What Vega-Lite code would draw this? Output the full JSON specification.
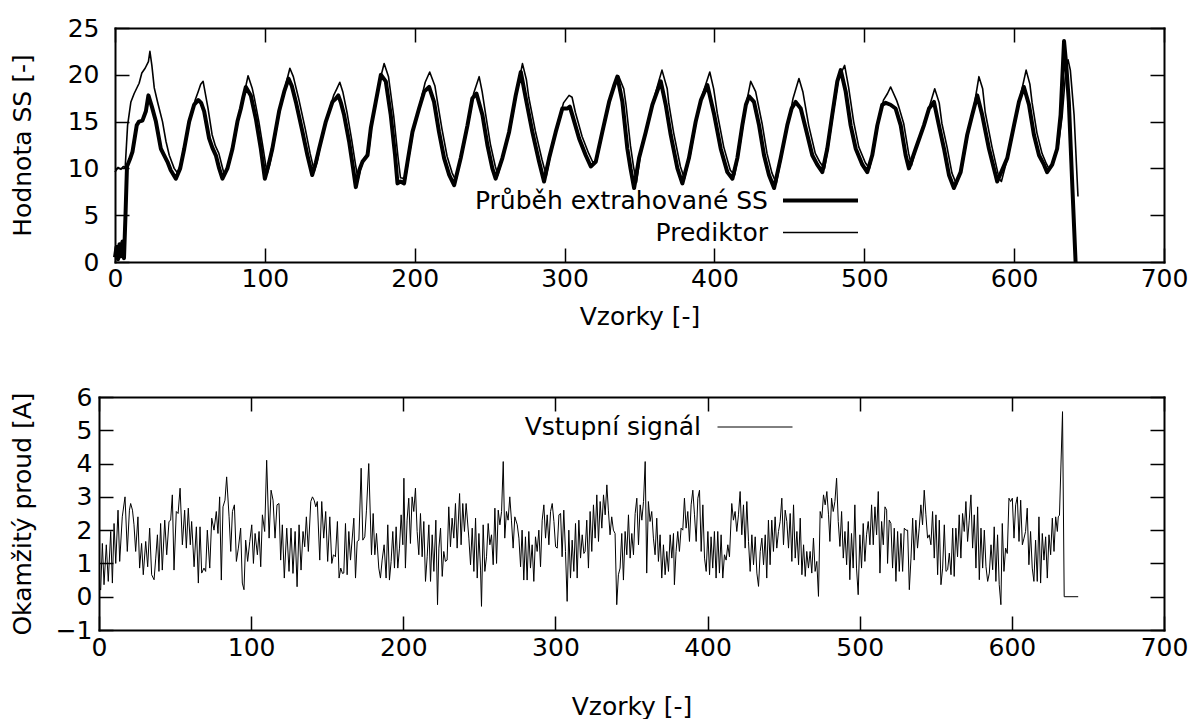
{
"$schema": "https://vega.github.io/schema/vega-lite/v6.json",
"padding": {"left": 10, "top": 16, "right": 5, "bottom": 0},
"background": "white",
"config": {
  "font": "DejaVu Sans",
  "view": {"stroke": null},
  "axis": {"domain": true, "domainColor": "black", "domainWidth": 2, "domainCap": "square", "grid": false, "tickSize": -14, "tickColor": "black", "tickWidth": 1.5, "labelColor": "black", "titleColor": "black", "labelFontSize": 25, "titleFontSize": 25, "titleFontWeight": "normal", "labelFont": "DejaVu Sans", "titleFont": "DejaVu Sans", "labelFlush": false, "labelOverlap": false},
  "legend": {"labelFont": "DejaVu Sans", "labelFontSize": 25, "labelColor": "black", "padding": 0, "offset": 0}
},
"datasets": {
"ss": [{"x":0,"v":0.5},{"x":1,"v":1.6},{"x":2,"v":0.3},{"x":3,"v":1.9},{"x":4,"v":0.6},{"x":5,"v":2.2},{"x":6,"v":0.4},{"x":7,"v":5.0},{"x":8,"v":10.2},{"x":10,"v":11.0},{"x":11.7,"v":11.8},{"x":14.5,"v":14.6},{"x":16,"v":15.0},{"x":18.3,"v":15.1},{"x":20.6,"v":16.1},{"x":22.3,"v":17.8},{"x":24.6,"v":16.6},{"x":27.3,"v":15.0},{"x":30.6,"v":12.1},{"x":32.8,"v":11.4},{"x":35,"v":10.7},{"x":37.2,"v":9.8},{"x":40.6,"v":8.9},
{"x":43.5,"v":10.0},{"x":46.2,"v":12.1},{"x":49.5,"v":15.0},{"x":52.8,"v":16.8},{"x":55.5,"v":17.3},{"x":57.5,"v":17.0},{"x":59.5,"v":16.1},{"x":62.8,"v":13.2},{"x":65,"v":12.2},{"x":67.3,"v":11.4},{"x":69.5,"v":10.0},{"x":71.7,"v":8.9},
{"x":75,"v":10.0},{"x":78.4,"v":12.1},{"x":81.7,"v":15.0},{"x":84,"v":16.4},{"x":85.6,"v":17.6},{"x":87.3,"v":18.7},{"x":90.6,"v":17.8},{"x":94,"v":15.3},{"x":97.3,"v":12.1},{"x":100,"v":8.9},
{"x":102.5,"v":10.4},{"x":105,"v":12.1},{"x":109.5,"v":16.1},{"x":112.9,"v":18.2},{"x":115.8,"v":19.6},{"x":118,"v":18.8},{"x":120.7,"v":17.1},{"x":125.1,"v":13.9},{"x":128.4,"v":11.4},{"x":131.6,"v":9.3},
{"x":134,"v":10.6},{"x":136.2,"v":12.1},{"x":140.7,"v":15.0},{"x":145.1,"v":17.1},{"x":147,"v":17.4},{"x":149,"v":17.8},{"x":150.8,"v":17.0},{"x":152.9,"v":15.7},{"x":156.2,"v":12.9},{"x":158.9,"v":10.0},{"x":160.7,"v":8.0},
{"x":163,"v":9.8},{"x":165.1,"v":10.7},{"x":168.5,"v":11.4},{"x":170.7,"v":14.3},{"x":174,"v":17.1},{"x":177.4,"v":20.0},{"x":180.7,"v":19.3},{"x":184,"v":15.7},{"x":186.9,"v":11.4},{"x":188.5,"v":8.4},
{"x":190.5,"v":8.6},{"x":192.9,"v":8.4},{"x":195.5,"v":11.0},{"x":198.5,"v":13.9},{"x":202.9,"v":16.4},{"x":206.3,"v":18.2},{"x":209.6,"v":18.7},{"x":212.9,"v":17.1},{"x":216.2,"v":13.9},{"x":219.6,"v":11.1},{"x":223,"v":9.3},{"x":226.3,"v":8.2},
{"x":230.7,"v":11.1},{"x":235.2,"v":14.6},{"x":238.5,"v":17.5},{"x":241.2,"v":18.0},{"x":245.2,"v":15.7},{"x":248.5,"v":12.5},{"x":251.8,"v":10.0},{"x":254,"v":8.9},
{"x":258.5,"v":11.1},{"x":263,"v":13.9},{"x":267.4,"v":17.8},{"x":270.8,"v":20.3},{"x":274.1,"v":17.5},{"x":278.5,"v":13.9},{"x":283,"v":10.7},{"x":286.3,"v":8.6},
{"x":289.7,"v":11.1},{"x":294.1,"v":13.9},{"x":298.5,"v":16.4},{"x":301.9,"v":16.4},{"x":303.5,"v":16.6},{"x":305.2,"v":15.7},{"x":309.7,"v":13.2},{"x":314.1,"v":11.4},{"x":317.5,"v":10.2},
{"x":320.8,"v":10.7},{"x":325.2,"v":13.9},{"x":329.7,"v":17.1},{"x":333,"v":18.8},{"x":335.2,"v":19.8},{"x":338.6,"v":17.1},{"x":341.9,"v":12.1},{"x":344,"v":10.0},{"x":346.4,"v":7.9},
{"x":349.7,"v":11.1},{"x":354.2,"v":13.9},{"x":358.6,"v":16.8},{"x":364.2,"v":19.3},{"x":367.5,"v":16.8},{"x":370.8,"v":13.6},{"x":375.3,"v":10.0},{"x":378.6,"v":8.4},
{"x":383,"v":11.1},{"x":387.5,"v":15.0},{"x":391,"v":17.3},{"x":395.3,"v":18.9},{"x":399.9,"v":15.7},{"x":404.2,"v":12.1},{"x":408.6,"v":9.6},{"x":412,"v":8.9},
{"x":415.3,"v":11.1},{"x":418.6,"v":14.6},{"x":421,"v":16.8},{"x":423.1,"v":17.7},{"x":426.4,"v":17.1},{"x":429.8,"v":14.6},{"x":433.1,"v":11.4},{"x":436.4,"v":9.3},{"x":439.8,"v":7.9},
{"x":444.2,"v":11.1},{"x":448.6,"v":14.6},{"x":451.5,"v":16.4},{"x":454.2,"v":17.1},{"x":457.6,"v":16.4},{"x":460.9,"v":14.3},{"x":465.3,"v":11.4},{"x":468.6,"v":10.4},{"x":472,"v":9.6},
{"x":475.3,"v":12.1},{"x":478.6,"v":15.7},{"x":482,"v":19.3},{"x":484.3,"v":20.5},{"x":487.6,"v":18.2},{"x":490.9,"v":14.6},{"x":494.3,"v":12.1},{"x":498.7,"v":10.4},{"x":502,"v":9.6},
{"x":505.3,"v":11.4},{"x":508.7,"v":14.6},{"x":512,"v":16.8},{"x":514.3,"v":17.0},{"x":517.5,"v":16.8},{"x":520.9,"v":16.4},{"x":524.3,"v":14.6},{"x":527.6,"v":11.4},{"x":529.8,"v":10.0},
{"x":534.3,"v":12.1},{"x":539.8,"v":14.6},{"x":543.2,"v":16.4},{"x":546.5,"v":17.1},{"x":549.8,"v":14.6},{"x":553.2,"v":12.1},{"x":556.5,"v":9.3},{"x":559.8,"v":7.9},
{"x":564.3,"v":9.6},{"x":568.7,"v":13.6},{"x":572,"v":15.7},{"x":575.4,"v":17.8},{"x":578.7,"v":15.7},{"x":583.2,"v":12.1},{"x":588.7,"v":8.6},
{"x":595.4,"v":11.1},{"x":599.9,"v":14.6},{"x":603.2,"v":17.1},{"x":606.5,"v":18.7},{"x":609.9,"v":16.8},{"x":613.2,"v":13.6},{"x":616.6,"v":11.4},{"x":619.9,"v":10.4},{"x":622,"v":9.6},
{"x":625.4,"v":10.4},{"x":628.7,"v":12.1},{"x":631,"v":15.7},{"x":633.3,"v":23.6},{"x":634.8,"v":21.0},{"x":636.5,"v":17.1},{"x":638.7,"v":8.6},{"x":641,"v":0}],
"pred": [{"x":0,"v":9.6},{"x":2,"v":10.1},{"x":4,"v":9.9},{"x":5.5,"v":10.2},{"x":6.8,"v":10.1},{"x":8.4,"v":14.6},{"x":10.6,"v":17.1},{"x":12.8,"v":18.0},{"x":16.1,"v":19.1},{"x":17.9,"v":20.2},{"x":20.1,"v":20.7},{"x":22.3,"v":21.4},{"x":23.3,"v":22.5},{"x":24.6,"v":21.0},{"x":26.2,"v":18.6},{"x":28.4,"v":17.1},{"x":31.7,"v":15.0},{"x":34,"v":12.9},{"x":36.2,"v":11.4},{"x":39.5,"v":10.0},{"x":41.7,"v":9.5},
{"x":44.5,"v":10.8},{"x":47,"v":12.6},{"x":50.3,"v":15.4},{"x":53.5,"v":17.3},{"x":55.5,"v":18.2},{"x":57.2,"v":19.0},{"x":58.8,"v":19.3},{"x":60.5,"v":17.8},{"x":62,"v":16.5},{"x":64.8,"v":13.6},{"x":67,"v":12.4},{"x":69.3,"v":11.6},{"x":71.5,"v":10.2},{"x":73,"v":9.3},
{"x":76,"v":10.6},{"x":79.2,"v":12.5},{"x":82.5,"v":15.4},{"x":84.8,"v":16.9},{"x":86.5,"v":18.2},{"x":88.8,"v":19.9},{"x":91.5,"v":18.6},{"x":93,"v":17.5},{"x":96,"v":15.0},{"x":99,"v":12.0},{"x":101.5,"v":9.4},
{"x":103.5,"v":10.6},{"x":105.8,"v":12.5},{"x":110.3,"v":16.5},{"x":113.7,"v":18.8},{"x":116.7,"v":20.7},{"x":119,"v":19.8},{"x":122.5,"v":17.5},{"x":127,"v":14.2},{"x":130.2,"v":11.6},{"x":133,"v":9.7},
{"x":135,"v":10.8},{"x":137,"v":12.4},{"x":141.5,"v":15.5},{"x":145.9,"v":17.8},{"x":148,"v":18.5},{"x":150,"v":19.2},{"x":152,"v":18.2},{"x":154.8,"v":16.0},{"x":158,"v":13.0},{"x":160.5,"v":10.4},{"x":162.2,"v":8.8},
{"x":164,"v":10.0},{"x":166,"v":11.0},{"x":169.3,"v":11.8},{"x":171.5,"v":14.8},{"x":174.8,"v":17.8},{"x":178,"v":20.2},{"x":179.6,"v":21.2},{"x":182.5,"v":19.8},{"x":186,"v":15.6},{"x":188.8,"v":11.3},{"x":190.5,"v":9.0},
{"x":193.8,"v":8.9},{"x":196.3,"v":11.4},{"x":199.3,"v":14.3},{"x":203.7,"v":17.0},{"x":207,"v":19.2},{"x":210,"v":20.3},{"x":213.5,"v":18.8},{"x":215,"v":17.3},{"x":218.2,"v":14.2},{"x":221.6,"v":11.3},{"x":225,"v":9.5},{"x":227.5,"v":8.7},
{"x":231.5,"v":11.5},{"x":236,"v":15.0},{"x":239.3,"v":18.0},{"x":243,"v":19.8},{"x":245,"v":18.2},{"x":247.2,"v":15.9},{"x":250.5,"v":12.6},{"x":253.8,"v":10.2},{"x":255.5,"v":9.3},
{"x":259.3,"v":11.5},{"x":263.8,"v":14.3},{"x":268.2,"v":18.2},{"x":271.9,"v":21.2},{"x":274.5,"v":19.5},{"x":276.1,"v":17.6},{"x":280.5,"v":14.0},{"x":285,"v":10.9},{"x":287.8,"v":9.2},
{"x":290.5,"v":11.4},{"x":294.9,"v":14.4},{"x":299.3,"v":17.0},{"x":303,"v":17.8},{"x":305,"v":17.6},{"x":307.2,"v":16.0},{"x":311.7,"v":13.4},{"x":316.1,"v":11.6},{"x":319,"v":10.6},
{"x":321.6,"v":11.0},{"x":326,"v":14.3},{"x":330.5,"v":17.6},{"x":333.8,"v":19.2},{"x":336,"v":19.9},{"x":339.5,"v":18.5},{"x":341,"v":16.8},{"x":344,"v":12.4},{"x":346,"v":10.2},{"x":348,"v":8.5},
{"x":350.5,"v":11.4},{"x":355,"v":14.3},{"x":359.4,"v":17.3},{"x":363,"v":19.4},{"x":365,"v":20.5},{"x":368.5,"v":18.5},{"x":369.5,"v":17.0},{"x":372.8,"v":13.8},{"x":377.3,"v":10.2},{"x":380,"v":8.9},
{"x":383.8,"v":11.4},{"x":388.3,"v":15.4},{"x":391.8,"v":17.8},{"x":396.9,"v":20.3},{"x":399.5,"v":18.5},{"x":401.9,"v":15.9},{"x":406.2,"v":12.3},{"x":410.6,"v":9.8},{"x":413.5,"v":9.3},
{"x":416.1,"v":11.5},{"x":419.4,"v":15.0},{"x":422,"v":17.5},{"x":424.2,"v":19.3},{"x":427.5,"v":18.2},{"x":431.8,"v":14.8},{"x":435.1,"v":11.6},{"x":438.4,"v":9.5},{"x":441.3,"v":8.4},
{"x":445,"v":11.5},{"x":449.4,"v":15.0},{"x":452.5,"v":17.5},{"x":456.4,"v":19.6},{"x":459,"v":18.2},{"x":462.9,"v":14.6},{"x":467.3,"v":11.6},{"x":470.6,"v":10.6},{"x":473.5,"v":10.0},
{"x":476.1,"v":12.5},{"x":479.4,"v":16.1},{"x":482.8,"v":19.6},{"x":486.9,"v":21.0},{"x":489.6,"v":18.6},{"x":492.9,"v":15.0},{"x":496.3,"v":12.3},{"x":500.7,"v":10.6},{"x":503.5,"v":10.0},
{"x":506.1,"v":11.8},{"x":509.5,"v":15.0},{"x":512.8,"v":17.3},{"x":515.5,"v":18.0},{"x":517.6,"v":18.7},{"x":521.5,"v":17.3},{"x":523,"v":16.6},{"x":526.3,"v":14.8},{"x":529.6,"v":11.6},{"x":531.5,"v":10.3},
{"x":535.1,"v":12.5},{"x":540.6,"v":15.0},{"x":544,"v":16.9},{"x":547,"v":18.5},{"x":550,"v":17.0},{"x":551.8,"v":14.8},{"x":555.2,"v":12.3},{"x":558.5,"v":9.5},{"x":561.5,"v":8.3},
{"x":565.1,"v":10.0},{"x":569.5,"v":14.0},{"x":572.8,"v":16.2},{"x":576.5,"v":19.8},{"x":579,"v":18.5},{"x":580.7,"v":16.0},{"x":585.2,"v":12.3},{"x":590,"v":8.9},{"x":591.5,"v":8.6},
{"x":596.2,"v":11.5},{"x":600.7,"v":15.0},{"x":604,"v":17.6},{"x":608,"v":20.5},{"x":610.5,"v":19.0},{"x":612,"v":17.0},{"x":615.2,"v":13.8},{"x":618.6,"v":11.6},{"x":621.5,"v":10.5},{"x":623.5,"v":9.9},
{"x":626.2,"v":10.7},{"x":629.5,"v":12.5},{"x":632,"v":15.5},{"x":634,"v":19.5},{"x":635,"v":21.0},{"x":636,"v":21.6},{"x":637.5,"v":20.5},{"x":640,"v":15.7},{"x":642.6,"v":7.0}],
"sig": [{"x":0,"v":0.3},{"x":1.1,"v":0.2},{"x":2.2,"v":1.6},{"x":3.3,"v":0.36},{"x":4.8,"v":1.56},{"x":6.1,"v":0.46},{"x":7.7,"v":1.96},{"x":8.8,"v":0.41},{"x":9.9,"v":2.2},{"x":11,"v":1.0},{"x":12.5,"v":2.6},{"x":13.6,"v":1.06},{"x":15.3,"v":2.4},{"x":17.1,"v":3.0},{"x":18.6,"v":1.36},{"x":20,"v":2.6},{"x":20.8,"v":2.8},{"x":22,"v":2.6},{"x":23,"v":2.16},{"x":24.1,"v":1.36},{"x":25.6,"v":2.4},{"x":26.7,"v":0.86},{"x":28,"v":1.6},{"x":29.1,"v":0.66},{"x":30.7,"v":1.66},{"x":32,"v":0.9},{"x":33.3,"v":2.06},{"x":34.6,"v":0.66},{"x":36.2,"v":0.51},{"x":37.3,"v":1.16},{"x":38.4,"v":1.86},{"x":39.4,"v":0.76},{"x":40.5,"v":2.2},{"x":41.6,"v":0.8},{"x":43.2,"v":2.3},{"x":44.5,"v":1.26},{"x":46,"v":2.26},{"x":47.1,"v":2.3},{"x":48.2,"v":3.06},{"x":49.3,"v":0.8},{"x":50.8,"v":2.56},{"x":52,"v":2.5},{"x":53.3,"v":3.26},{"x":54.8,"v":1.56},{"x":56.3,"v":2.6},{"x":57.4,"v":1.46},{"x":58.7,"v":2.66},{"x":60,"v":1.56},{"x":60.9,"v":2.26},{"x":62.5,"v":0.9},{"x":64,"v":2.1},{"x":65.3,"v":0.41},{"x":66.4,"v":2.1},{"x":67.5,"v":0.71},{"x":69,"v":0.86},{"x":70.1,"v":0.76},{"x":71.2,"v":2.0},{"x":72.8,"v":0.86},{"x":74.1,"v":2.36},{"x":75.6,"v":2.0},{"x":77.1,"v":2.56},{"x":78.2,"v":1.9},{"x":79.3,"v":3.0},{"x":80.4,"v":0.5},{"x":81.5,"v":2.7},{"x":82.8,"v":2.9},{"x":83.9,"v":3.6},{"x":85.5,"v":2.4},{"x":86.6,"v":1.36},{"x":87.7,"v":2.56},{"x":89,"v":2.76},{"x":90.3,"v":1.06},{"x":91.6,"v":1.46},{"x":93.1,"v":2.06},{"x":94.2,"v":0.41},{"x":95.3,"v":0.21},{"x":96.4,"v":1.7},{"x":97.7,"v":1.06},{"x":99.1,"v":1.66},{"x":100.4,"v":2.16},{"x":101.5,"v":1.0},{"x":102.6,"v":1.9},{"x":104.1,"v":1.26},{"x":105.2,"v":1.96},{"x":106.3,"v":0.9},{"x":107.4,"v":2.46},{"x":108.9,"v":1.96},{"x":110.2,"v":4.1},{"x":111.8,"v":1.76},{"x":113.1,"v":3.2},{"x":114.4,"v":2.9},{"x":115.7,"v":1.76},{"x":117,"v":2.76},{"x":118.3,"v":2.8},{"x":119.4,"v":1.1},{"x":120.5,"v":2.16},{"x":121.8,"v":0.56},{"x":123.4,"v":2.06},{"x":124.9,"v":0.76},{"x":126.2,"v":2.06},{"x":127.5,"v":0.7},{"x":128.9,"v":1.96},{"x":130.2,"v":0.3},{"x":131.5,"v":2.16},{"x":132.8,"v":0.8},{"x":134.1,"v":1.96},{"x":135.2,"v":1.5},{"x":136.3,"v":2.4},{"x":137.6,"v":1.36},{"x":139.2,"v":2.86},{"x":140.3,"v":3.0},{"x":141.4,"v":2.9},{"x":142.5,"v":2.7},{"x":143.5,"v":2.86},{"x":145.1,"v":1.1},{"x":146.4,"v":2.86},{"x":147.7,"v":1.76},{"x":149,"v":2.56},{"x":150.3,"v":1.06},{"x":151.7,"v":2.4},{"x":153,"v":1.0},{"x":154.1,"v":1.26},{"x":155.4,"v":1.2},{"x":156.7,"v":2.26},{"x":157.8,"v":0.56},{"x":158.9,"v":0.86},{"x":160,"v":0.7},
{"x":160.9,"v":0.71},{"x":162,"v":2.2},{"x":163.1,"v":0.66},{"x":164.2,"v":1.96},{"x":165.3,"v":1.1},{"x":167.5,"v":2.36},{"x":168.6,"v":0.56},{"x":169.7,"v":1.66},{"x":170.8,"v":1.7},{"x":172.3,"v":3.86},{"x":173.4,"v":1.7},{"x":174.7,"v":1.8},{"x":175.8,"v":2.6},{"x":177.3,"v":4.0},{"x":179.1,"v":1.26},{"x":180.2,"v":2.5},{"x":181.3,"v":1.26},{"x":182.4,"v":1.9},{"x":183.9,"v":0.86},{"x":185,"v":0.56},{"x":186.1,"v":1.1},{"x":187.4,"v":1.56},{"x":188.7,"v":0.56},{"x":189.8,"v":2.16},{"x":190.9,"v":0.5},{"x":192,"v":1.06},{"x":193.1,"v":1.96},{"x":194.2,"v":0.86},{"x":195.3,"v":2.1},{"x":196.4,"v":0.86},{"x":197.5,"v":1.46},{"x":198.6,"v":2.46},{"x":199.7,"v":1.56},{"x":200.4,"v":3.56},{"x":201.4,"v":0.86},{"x":202.5,"v":2.3},{"x":203.6,"v":2.96},{"x":204.7,"v":1.6},{"x":205.8,"v":3.0},{"x":206.9,"v":2.56},{"x":208,"v":3.26},{"x":209.1,"v":1.96},{"x":210.2,"v":1.26},{"x":211.3,"v":2.5},{"x":212.4,"v":1.2},{"x":213.5,"v":2.26},{"x":214.6,"v":0.46},{"x":215.7,"v":1.2},{"x":216.8,"v":2.16},{"x":217.9,"v":0.46},{"x":219,"v":1.86},{"x":220.1,"v":0.76},{"x":221.4,"v":2.3},{"x":222.5,"v":-0.24},{"x":223.4,"v":1.46},{"x":224.5,"v":2.06},{"x":225.6,"v":0.61},{"x":226.6,"v":1.36},{"x":227.7,"v":1.06},{"x":228.8,"v":1.1},{"x":229.9,"v":2.7},{"x":231,"v":1.5},{"x":232.1,"v":2.36},{"x":233.2,"v":1.76},{"x":234.3,"v":2.8},{"x":235.4,"v":1.46},{"x":237,"v":3.1},{"x":238,"v":1.56},{"x":239.1,"v":2.8},{"x":240.2,"v":1.96},{"x":241.3,"v":2.8},{"x":243.1,"v":1.76},{"x":244.2,"v":0.96},{"x":245.3,"v":2.06},{"x":246.4,"v":0.76},{"x":247.5,"v":2.36},{"x":248.6,"v":0.56},{"x":249.7,"v":1.9},{"x":250.8,"v":0.8},{"x":251.4,"v":-0.29},{"x":252.5,"v":2.16},{"x":253.6,"v":0.76},{"x":254.7,"v":1.2},{"x":255.8,"v":2.2},{"x":256.9,"v":1.56},{"x":258,"v":1.86},{"x":259.1,"v":0.96},{"x":260.2,"v":2.66},{"x":261.3,"v":1.0},{"x":262.4,"v":2.6},{"x":263.5,"v":2.16},{"x":264.6,"v":2.56},{"x":265.7,"v":4.06},{"x":266.7,"v":1.76},{"x":267.8,"v":2.56},{"x":268.9,"v":2.3},{"x":270,"v":3.0},{"x":271.1,"v":2.3},{"x":272.2,"v":1.46},{"x":273.3,"v":2.4},{"x":274.9,"v":2.16},{"x":276,"v":1.76},{"x":277.1,"v":0.9},{"x":278.1,"v":2.0},{"x":279.2,"v":0.5},{"x":280.3,"v":1.8},{"x":281.4,"v":0.5},{"x":282.5,"v":1.96},{"x":283.6,"v":0.86},{"x":284.7,"v":1.56},{"x":285.8,"v":0.46},{"x":286.9,"v":1.8},{"x":288,"v":1.36},{"x":289.1,"v":2.0},{"x":290.2,"v":0.9},{"x":291.3,"v":2.3},{"x":292.4,"v":2.76},{"x":293.5,"v":1.76},{"x":294.6,"v":2.46},{"x":295.7,"v":1.56},{"x":296.8,"v":2.56},{"x":297.9,"v":2.8},{"x":299,"v":2.26},{"x":300.1,"v":1.5},{"x":301.2,"v":1.46},{"x":302.3,"v":2.46},{"x":303.4,"v":2.5},{"x":304.4,"v":1.2},{"x":305.5,"v":2.6},{"x":306.6,"v":1.36},{"x":307.7,"v":-0.14},{"x":308.8,"v":2.0},{"x":309.9,"v":0.56},{"x":311,"v":1.7},{"x":312.1,"v":0.76},{"x":313.2,"v":2.2},{"x":314.3,"v":0.56},{"x":315.4,"v":2.3},{"x":316.5,"v":1.16},{"x":317.6,"v":1.86},{"x":318.7,"v":1.3},
{"x":319.5,"v":1.36},{"x":320.6,"v":2.3},{"x":321.7,"v":0.86},{"x":322.8,"v":2.56},{"x":323.9,"v":1.36},{"x":325,"v":2.76},{"x":326.1,"v":1.76},{"x":327.2,"v":3.06},{"x":328.3,"v":1.66},{"x":329.4,"v":2.86},{"x":330.5,"v":2.06},{"x":331.6,"v":3.06},{"x":332.7,"v":2.46},{"x":333.8,"v":3.36},{"x":334.8,"v":2.6},{"x":335.9,"v":1.86},{"x":337,"v":2.4},{"x":338.1,"v":2.0},{"x":339.2,"v":1.9},{"x":340.3,"v":-0.24},{"x":341.4,"v":0.66},{"x":342.5,"v":0.86},{"x":343.6,"v":1.9},{"x":344.7,"v":0.5},{"x":345.8,"v":1.96},{"x":346.9,"v":1.26},{"x":348,"v":2.46},{"x":349.1,"v":1.16},{"x":350.2,"v":1.9},{"x":351.3,"v":1.26},{"x":352.4,"v":2.5},{"x":353.5,"v":2.96},{"x":354.6,"v":1.56},{"x":355.7,"v":2.76},{"x":356.8,"v":2.3},{"x":357.9,"v":2.86},{"x":359,"v":4.06},{"x":360,"v":0.71},{"x":361.1,"v":2.86},{"x":362.2,"v":2.26},{"x":363.3,"v":2.56},{"x":364.4,"v":1.76},{"x":365.5,"v":1.26},{"x":366.6,"v":2.36},{"x":367.7,"v":1.06},{"x":368.8,"v":1.86},{"x":369.9,"v":0.56},{"x":371,"v":1.56},{"x":372.1,"v":0.66},{"x":373.2,"v":1.36},{"x":374.3,"v":0.76},{"x":375.4,"v":1.86},{"x":376.5,"v":1.16},{"x":377.6,"v":1.9},{"x":378.2,"v":0.36},{"x":379.3,"v":1.36},{"x":380.4,"v":1.96},{"x":381.5,"v":1.36},{"x":382.6,"v":2.06},{"x":383.7,"v":2.0},{"x":384.8,"v":2.96},{"x":385.9,"v":2.06},{"x":387,"v":2.56},{"x":388.1,"v":1.66},{"x":389.2,"v":2.76},{"x":390.3,"v":3.2},{"x":391.4,"v":2.46},{"x":392.5,"v":1.66},{"x":393.6,"v":2.96},{"x":394.7,"v":3.2},{"x":395.8,"v":1.36},{"x":396.9,"v":2.76},{"x":398,"v":1.16},{"x":399.1,"v":0.76},{"x":400.2,"v":1.96},{"x":401.3,"v":0.66},{"x":402.3,"v":1.8},{"x":403.4,"v":0.86},{"x":404.5,"v":1.96},{"x":405.6,"v":0.56},{"x":406.7,"v":1.96},{"x":407.8,"v":0.71},{"x":408.9,"v":1.86},{"x":410,"v":0.56},{"x":411.1,"v":1.26},{"x":412.2,"v":1.1},{"x":413.3,"v":1.56},{"x":414.4,"v":1.2},{"x":415.9,"v":2.8},{"x":417,"v":2.3},{"x":418.1,"v":2.56},{"x":419.2,"v":1.96},{"x":420.3,"v":2.46},{"x":421.4,"v":3.16},{"x":422.5,"v":1.86},{"x":423.6,"v":2.76},{"x":424.7,"v":1.46},{"x":425.8,"v":2.86},{"x":426.9,"v":1.66},{"x":428,"v":0.76},{"x":429.1,"v":1.86},{"x":430.2,"v":0.96},{"x":431.3,"v":1.8},{"x":432.4,"v":0.71},{"x":433.5,"v":0.31},{"x":434.6,"v":1.36},{"x":435.7,"v":1.76},{"x":436.8,"v":0.96},{"x":437.9,"v":1.86},{"x":438.9,"v":0.56},{"x":440,"v":2.3},{"x":441.1,"v":0.96},{"x":442.2,"v":2.3},{"x":443.3,"v":1.36},{"x":444.4,"v":2.4},{"x":445.5,"v":1.46},{"x":446.6,"v":1.96},{"x":447.7,"v":2.26},{"x":448.8,"v":2.96},{"x":449.9,"v":1.56},{"x":451,"v":2.6},{"x":452.1,"v":2.26},{"x":453.2,"v":1.46},{"x":454.3,"v":2.5},{"x":455.4,"v":1.06},{"x":456.5,"v":2.76},{"x":457.6,"v":1.16},{"x":458.7,"v":1.96},{"x":459.8,"v":0.96},{"x":460.9,"v":2.36},{"x":462,"v":0.66},{"x":463.1,"v":1.56},{"x":464.2,"v":0.61},{"x":465.2,"v":1.36},{"x":466.3,"v":0.86},{"x":467.4,"v":1.36},{"x":468.5,"v":0.71},{"x":469.6,"v":1.76},{"x":470.7,"v":0.76},{"x":471.8,"v":1.06},{"x":472.9,"v":0.01},{"x":474,"v":2.56},{"x":475.1,"v":2.36},{"x":476.2,"v":3.06},{"x":477.3,"v":2.76},{"x":478.4,"v":3.16},{"x":479.5,"v":2.46},
{"x":480.4,"v":1.66},{"x":481.5,"v":2.96},{"x":482.6,"v":2.56},{"x":483.7,"v":2.86},{"x":484.8,"v":3.56},{"x":485.9,"v":2.26},{"x":487,"v":1.51},{"x":488.1,"v":2.56},{"x":489.2,"v":1.16},{"x":490.3,"v":1.96},{"x":491.4,"v":0.96},{"x":492.5,"v":2.26},{"x":493.5,"v":0.51},{"x":494.6,"v":1.9},{"x":495.7,"v":0.86},{"x":496.8,"v":2.76},{"x":497.9,"v":0.86},{"x":499,"v":0.06},{"x":500.1,"v":1.86},{"x":501.2,"v":0.86},{"x":502.3,"v":2.2},{"x":503.4,"v":1.06},{"x":504.5,"v":1.86},{"x":505.6,"v":2.26},{"x":506.7,"v":1.56},{"x":507.8,"v":2.76},{"x":508.9,"v":1.56},{"x":510,"v":2.7},{"x":511.1,"v":1.86},{"x":512.2,"v":3.16},{"x":513.3,"v":0.71},{"x":514.4,"v":2.26},{"x":515.5,"v":1.56},{"x":516.6,"v":2.7},{"x":517.7,"v":2.6},{"x":518.3,"v":1.0},{"x":519.4,"v":2.3},{"x":520.5,"v":2.2},{"x":521.6,"v":0.86},{"x":522.7,"v":2.06},{"x":523.8,"v":0.46},{"x":524.9,"v":1.96},{"x":526,"v":0.76},{"x":527.1,"v":1.9},{"x":528.2,"v":0.76},{"x":529.3,"v":2.06},{"x":530.4,"v":2.0},{"x":531.5,"v":2.0},{"x":532.6,"v":0.21},{"x":533.7,"v":1.16},{"x":534.8,"v":2.36},{"x":535.8,"v":1.1},{"x":536.9,"v":2.3},{"x":538,"v":1.46},{"x":539.1,"v":2.06},{"x":540.2,"v":2.76},{"x":541.3,"v":2.16},{"x":542.4,"v":3.2},{"x":543.5,"v":2.46},{"x":544.6,"v":1.76},{"x":545.7,"v":1.86},{"x":546.8,"v":1.56},{"x":547.9,"v":2.56},{"x":549,"v":1.16},{"x":550.1,"v":2.46},{"x":551.2,"v":0.66},{"x":552.3,"v":2.3},{"x":553.4,"v":0.36},{"x":554.5,"v":0.86},{"x":555.6,"v":2.16},{"x":556.7,"v":0.76},{"x":557.8,"v":0.81},{"x":558.9,"v":1.31},{"x":560,"v":0.66},{"x":561.1,"v":2.06},{"x":562.1,"v":0.61},{"x":563.2,"v":2.06},{"x":564.3,"v":1.2},{"x":565.4,"v":2.46},{"x":566.5,"v":1.16},{"x":567.6,"v":2.5},{"x":568.7,"v":1.96},{"x":569.8,"v":2.86},{"x":570.9,"v":1.66},{"x":572,"v":2.3},{"x":573.1,"v":3.06},{"x":574.2,"v":1.46},{"x":575.3,"v":2.46},{"x":576.4,"v":0.86},{"x":577.5,"v":2.7},{"x":578.6,"v":0.51},{"x":579.7,"v":2.06},{"x":580.8,"v":0.86},{"x":581.9,"v":2.0},{"x":583,"v":0.9},{"x":584.1,"v":0.46},{"x":585.2,"v":0.71},{"x":586.3,"v":1.56},{"x":587.4,"v":0.81},{"x":588.4,"v":2.1},{"x":589.5,"v":0.46},{"x":590.6,"v":1.86},{"x":591.7,"v":0.36},{"x":592.8,"v":-0.24},{"x":593.7,"v":2.2},{"x":594.8,"v":0.76},{"x":595.9,"v":1.46},{"x":597,"v":1.3},{"x":598.1,"v":2.96},{"x":599.2,"v":2.86},{"x":600.3,"v":2.96},{"x":601.4,"v":1.76},{"x":602.5,"v":2.76},{"x":603.6,"v":3.0},{"x":604.7,"v":1.66},{"x":605.8,"v":2.9},{"x":606.9,"v":1.56},{"x":608,"v":1.76},{"x":609,"v":1.96},{"x":610.1,"v":2.66},{"x":611.2,"v":0.96},{"x":612.3,"v":1.96},{"x":613.4,"v":0.86},{"x":614.5,"v":0.46},{"x":615.6,"v":1.7},{"x":616.7,"v":0.46},{"x":617.8,"v":2.4},{"x":618.9,"v":0.41},{"x":620,"v":1.9},{"x":621.1,"v":1.1},{"x":622.2,"v":1.8},{"x":623.3,"v":0.56},{"x":624.4,"v":1.86},{"x":625.5,"v":1.26},{"x":626.6,"v":2.36},{"x":627.7,"v":1.36},{"x":628.8,"v":2.4},{"x":629.9,"v":1.96},{"x":630.5,"v":2.4},{"x":631.3,"v":2.45},{"x":633.3,"v":5.56},{"x":634.4,"v":0},{"x":643.6,"v":0}]
},
"spacing": 56,
"resolve": {"scale": {"x": "independent", "y": "independent", "strokeWidth": "independent"}, "legend": {"strokeWidth": "independent"}},
"vconcat": [
  {
    "width": 1065, "height": 234,
    "layer": [
      {
        "data": {"name": "ss"},
        "mark": {"type": "line", "color": "black", "strokeJoin": "round", "clip": true},
        "encoding": {
          "x": {"field": "x", "type": "quantitative", "scale": {"domain": [0, 700], "range": [16, 1065], "nice": false, "zero": false}, "axis": {"orient": "bottom", "values": [0,100,200,300,400,500,600,700], "title": "Vzorky [-]", "labelPadding": 18, "titlePadding": 13}},
          "y": {"field": "v", "type": "quantitative", "scale": {"domain": [0, 25], "nice": false}, "axis": {"orient": "left", "offset": -16, "values": [0,5,10,15,20,25], "title": "Hodnota SS [-]", "labelPadding": 30, "titlePadding": 32}},
          "strokeWidth": {"datum": "ss", "type": "nominal", "scale": {"domain": ["ss", "pred"], "range": [4, 1.6]},
            "legend": {"title": null, "orient": "none", "legendX": 707, "legendY": 158, "direction": "vertical", "symbolType": "M-3,0H3", "symbolSize": 625, "symbolStrokeColor": "black", "symbolFillColor": "transparent", "labelAlign": "right", "labelOffset": -67, "labelLimit": 600, "rowPadding": 5, "labelExpr": "datum.value == 'ss' ? 'Průběh extrahované SS' : 'Prediktor'"}}
        }
      },
      {
        "data": {"name": "pred"},
        "mark": {"type": "line", "color": "black", "strokeJoin": "round", "clip": true},
        "encoding": {
          "x": {"field": "x", "type": "quantitative", "axis": null},
          "y": {"field": "v", "type": "quantitative", "axis": null},
          "strokeWidth": {"datum": "pred", "type": "nominal"}
        }
      },
      {
        "data": {"name": "pred"},
        "mark": {"type": "line", "opacity": 0},
        "encoding": {
          "x": {"field": "x", "type": "quantitative", "axis": {"orient": "top", "values": [0,100,200,300,400,500,600,700], "labels": false, "title": null}},
          "y": {"field": "v", "type": "quantitative", "axis": {"orient": "right", "values": [0,5,10,15,20,25], "labels": false, "title": null}}
        }
      }
    ],
    "resolve": {"axis": {"x": "independent", "y": "independent"}}
  },
  {
    "width": 1065, "height": 233,
    "data": {"name": "sig"},
    "layer": [
      {
        "mark": {"type": "line", "color": "black", "strokeJoin": "miter", "clip": true},
        "encoding": {
          "x": {"field": "x", "type": "quantitative", "scale": {"domain": [0, 700], "nice": false, "zero": false}, "axis": {"orient": "bottom", "values": [0,100,200,300,400,500,600,700], "title": "Vzorky [-]", "labelPadding": 19, "titlePadding": 34}},
          "y": {"field": "v", "type": "quantitative", "scale": {"domain": [-1, 6], "nice": false, "zero": false}, "axis": {"orient": "left", "values": [-1,0,1,2,3,4,5,6], "title": "Okamžitý proud [A]", "labelPadding": 21, "titlePadding": 20}},
          "strokeWidth": {"datum": "Vstupní signál", "type": "nominal", "scale": {"range": [2.3]},
            "legend": {"title": null, "orient": "none", "legendX": 656, "legendY": 30, "direction": "vertical", "symbolType": "M-3,0H3", "symbolSize": 625, "symbolStrokeColor": "black", "symbolFillColor": "transparent", "labelAlign": "right", "labelOffset": -122, "labelLimit": 600, "encode": {"labels": {"update": {"dx": {"value": -54}}}}}}
        }
      },
      {
        "mark": {"type": "line", "opacity": 0},
        "encoding": {
          "x": {"field": "x", "type": "quantitative", "axis": {"orient": "top", "values": [0,100,200,300,400,500,600,700], "labels": false, "title": null}},
          "y": {"field": "v", "type": "quantitative", "axis": {"orient": "right", "values": [-1,0,1,2,3,4,5,6], "labels": false, "title": null}}
        }
      }
    ],
    "resolve": {"axis": {"x": "independent", "y": "independent"}}
  }
]
}
